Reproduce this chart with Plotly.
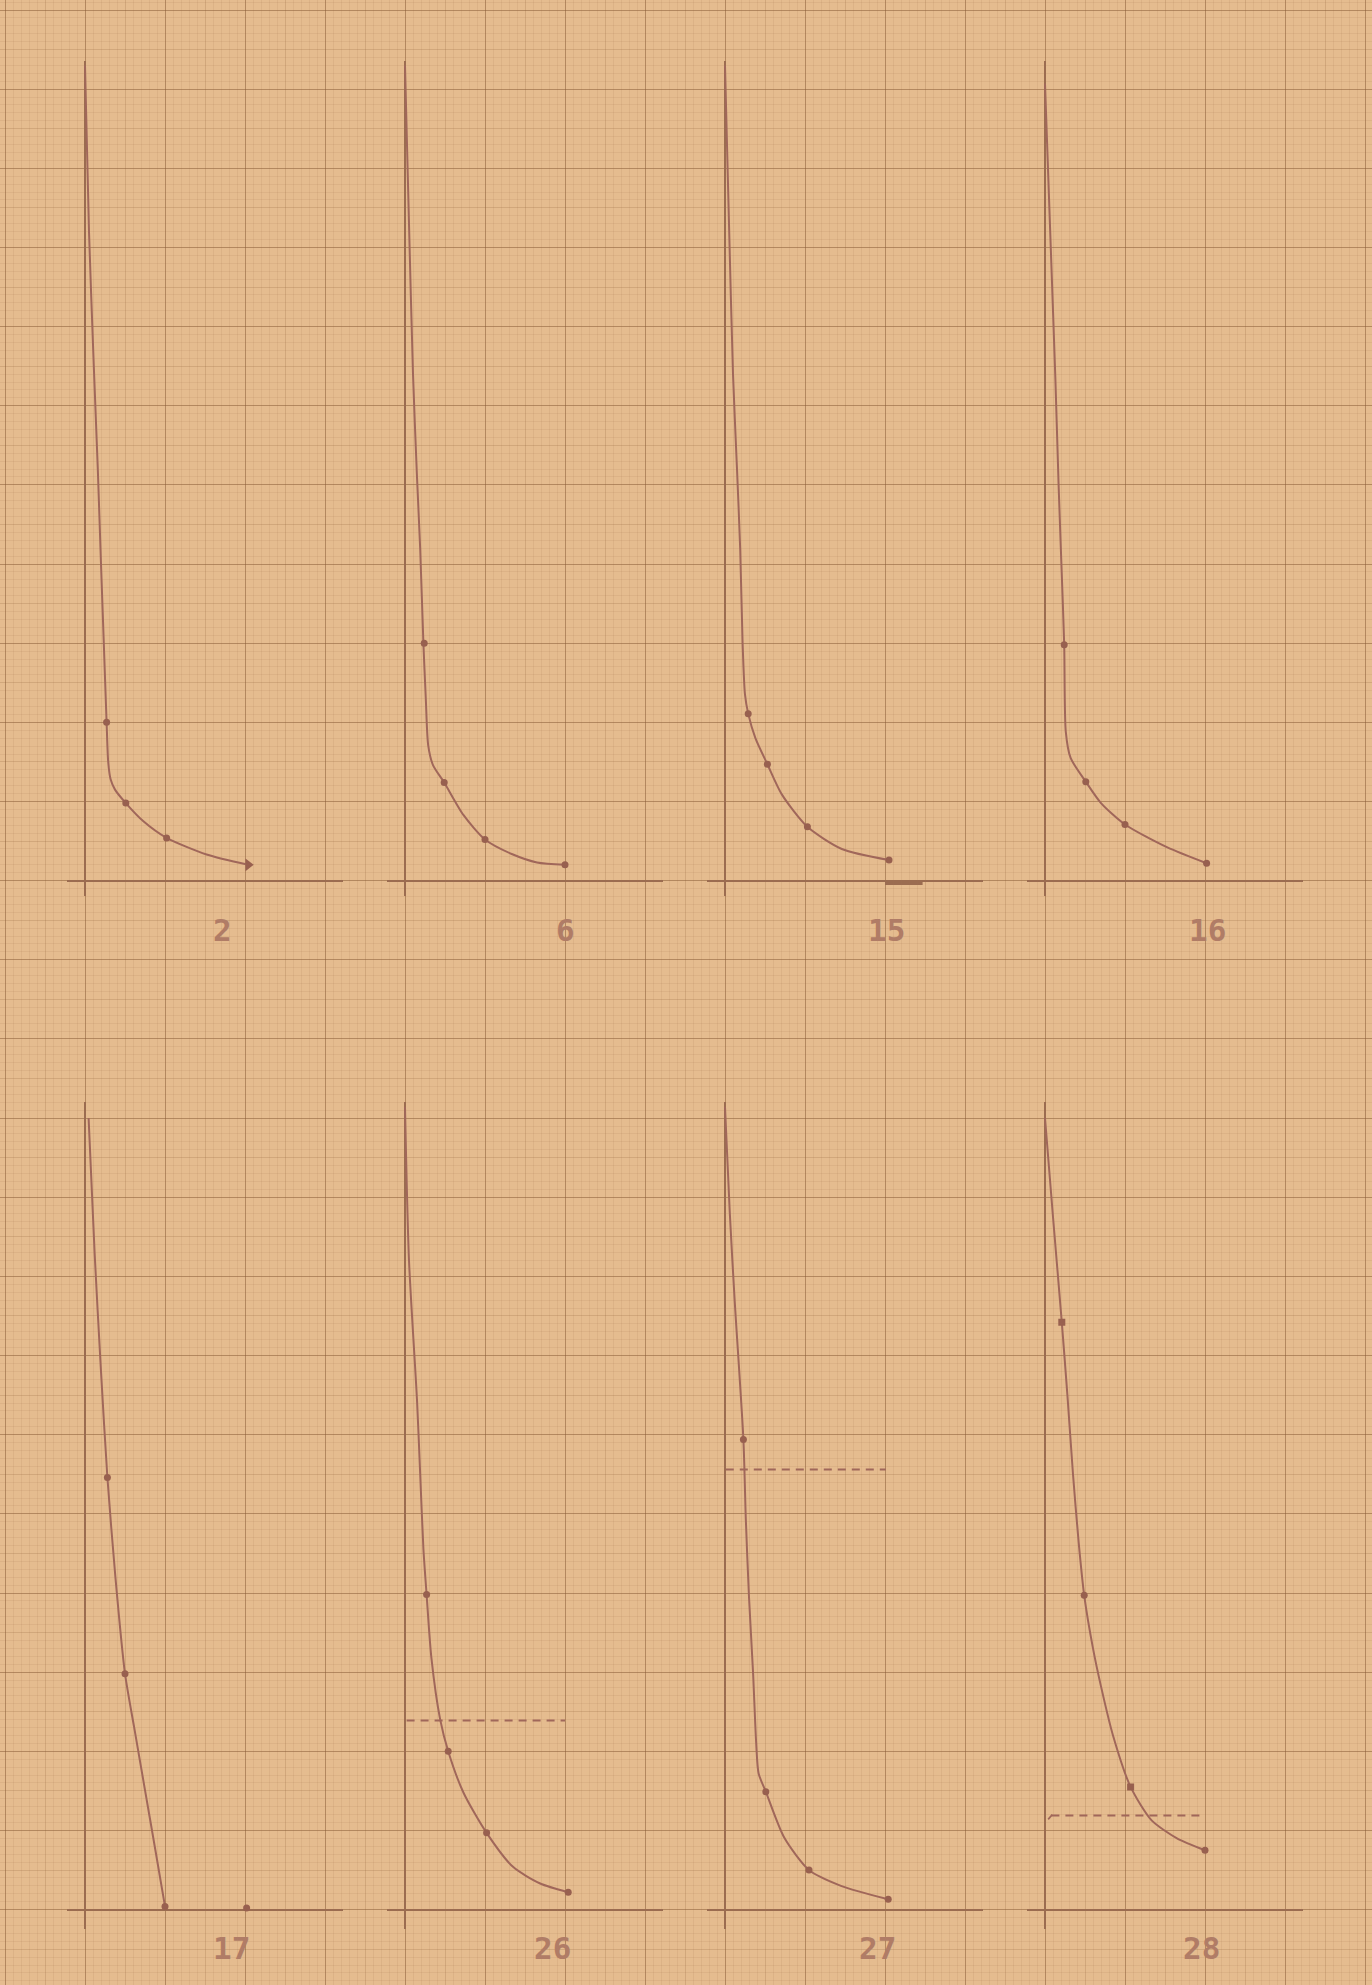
import plotly.graph_objects as go

W, H = 1372, 1985

# ---------------- data (grid-square units; vertical axis at x=0, baseline at y=0) ----------------
LABELS = ["2", "6", "15", "16", "17", "26", "27", "28"]
LABEL_X = [1.72, 2.01, 2.02, 2.03, 1.83, 1.85, 1.9, 1.95]
LABEL_Y = [-0.62, -0.62, -0.62, -0.62, -0.49, -0.49, -0.49, -0.49]

C2_X = [0.0, 0.05, 0.11, 0.16, 0.2, 0.235, 0.27, 0.29, 0.32, 0.375, 0.51, 0.73, 1.02, 1.52, 2.04]
C2_Y = [10.3, 8.2, 6.5, 5.2, 4.0, 3.0, 2.0, 1.5, 1.28, 1.15, 0.98, 0.75, 0.54, 0.33, 0.2]
P2_X = [0.27, 0.51, 1.02]
P2_Y = [2.0, 0.98, 0.54]
END2_X = [2.04]
END2_Y = [0.2]

C6_X = [0.0, 0.05, 0.1, 0.15, 0.19, 0.23, 0.26, 0.29, 0.35, 0.49, 0.73, 1.0, 1.35, 1.65, 2.0]
C6_Y = [10.3, 8.3, 6.4, 5.1, 4.19, 3.0, 2.3, 1.71, 1.46, 1.24, 0.83, 0.52, 0.33, 0.23, 0.2]
P6_X = [0.24, 0.49, 1.0, 2.0]
P6_Y = [3.0, 1.24, 0.52, 0.2]

C15_X = [0.0, 0.05, 0.1, 0.15, 0.19, 0.22, 0.25, 0.29, 0.38, 0.53, 0.71, 1.03, 1.46, 2.05]
C15_Y = [10.3, 8.3, 6.4, 5.2, 4.19, 3.0, 2.35, 2.11, 1.8, 1.47, 1.09, 0.68, 0.4, 0.26]
P15_X = [0.29, 0.53, 1.03, 2.05]
P15_Y = [2.11, 1.47, 0.68, 0.26]
MARK15_X = [2.0, 2.47]
MARK15_Y = [-0.03, -0.03]

C16_X = [0.0, 0.065, 0.13, 0.17, 0.205, 0.24, 0.26, 0.32, 0.51, 0.7, 1.0, 1.53, 2.02]
C16_Y = [10.07, 8.2, 6.33, 5.0, 4.0, 2.98, 1.88, 1.55, 1.25, 0.98, 0.71, 0.42, 0.22]
P16_X = [0.24, 0.51, 1.0, 2.02]
P16_Y = [2.98, 1.25, 0.71, 0.22]

C17_X = [0.045, 0.12, 0.2, 0.28, 0.38, 0.5, 0.62, 0.75, 0.88, 1.0]
C17_Y = [10.0, 8.3, 6.8, 5.46, 4.2, 2.98, 2.27, 1.51, 0.75, 0.04]
P17_X = [0.28, 0.5, 1.0, 2.02]
P17_Y = [5.46, 2.98, 0.04, 0.02]

C26_X = [0.0, 0.05, 0.15, 0.19, 0.23, 0.27, 0.33, 0.44, 0.54, 0.73, 1.02, 1.35, 1.69, 2.04]
C26_Y = [10.14, 8.2, 6.44, 5.5, 4.56, 3.98, 3.18, 2.4, 2.0, 1.48, 0.97, 0.54, 0.33, 0.22]
P26_X = [0.27, 0.54, 1.02, 2.04]
P26_Y = [3.98, 2.0, 0.97, 0.22]
D26_X = [0.02, 2.0]
D26_Y = [2.39, 2.39]

C27_X = [0.0, 0.06, 0.12, 0.23, 0.26, 0.3, 0.35, 0.39, 0.42, 0.51, 0.74, 1.05, 1.45, 2.04]
C27_Y = [10.14, 8.8, 7.71, 5.94, 4.94, 3.95, 3.01, 2.1, 1.72, 1.49, 0.91, 0.5, 0.3, 0.13]
P27_X = [0.23, 0.51, 1.05, 2.04]
P27_Y = [5.94, 1.49, 0.5, 0.13]
D27_X = [0.01, 2.01]
D27_Y = [5.56, 5.56]

C28_X = [0.0, 0.1, 0.21, 0.28, 0.35, 0.42, 0.49, 0.6, 0.7, 0.85, 1.07, 1.33, 1.65, 2.0]
C28_Y = [10.0, 8.75, 7.42, 6.5, 5.5, 4.65, 3.97, 3.3, 2.82, 2.2, 1.55, 1.13, 0.9, 0.75]
P28_X = [0.21, 0.49, 1.07, 2.0]
P28_Y = [7.42, 3.97, 1.55, 0.75]
P28_SYM = ["square", "circle", "square", "circle"]
D28_X = [0.08, 2.0]
D28_Y = [1.19, 1.19]
T28_X = [0.04, 0.09]
T28_Y = [1.14, 1.2]

# ---------------- layout constants ----------------
PX_X, PX_Y = 80.0, 79.15          # pixels per grid square
GX0, GY0 = 5.0, 10.0              # pixel of grid line 0
PANEL_COL = [1, 5, 9, 13, 1, 5, 9, 13]
PANEL_ROW = [11, 11, 11, 11, 24, 24, 24, 24]
XMIN, XMAX = -0.22, 3.22
YRANGE_TOP = (-0.2, 10.35)
YRANGE_BOT = (-0.25, 10.2)

BG = "#E5BC8F"
FINE = "rgba(160,110,70,0.12)"
MED = "rgba(150,105,65,0.25)"
MAJ = "rgba(135,90,55,0.40)"
AXC = "#9B6C50"
CURVE = "#A0675A"
MARK = "#98604F"
LABC = "#B07C66"

fig = go.Figure()

# background graph paper
xr = [(0 - GX0) / PX_X, (W - GX0) / PX_X]
yr = [(H - GY0) / PX_Y, (0 - GY0) / PX_Y]
fig.add_trace(go.Scatter(x=[], y=[], xaxis="x", yaxis="y", showlegend=False))
fig.add_trace(go.Scatter(x=[], y=[], xaxis="x2", yaxis="y2", showlegend=False))
common = dict(showticklabels=False, ticks="", zeroline=False, showline=False, fixedrange=True)
fig.update_layout(
    xaxis=dict(domain=[0, 1], range=xr, tick0=0, dtick=0.5, showgrid=True, gridcolor=MED, gridwidth=1,
               minor=dict(dtick=0.1, showgrid=True, gridcolor=FINE, gridwidth=1), anchor="y", **common),
    yaxis=dict(domain=[0, 1], range=yr, tick0=0, dtick=0.5, showgrid=True, gridcolor=MED, gridwidth=1,
               minor=dict(dtick=0.1, showgrid=True, gridcolor=FINE, gridwidth=1), anchor="x", **common),
    xaxis2=dict(overlaying="x", range=xr, tick0=0, dtick=1, showgrid=True, gridcolor=MAJ, gridwidth=1.4,
                anchor="y2", **common),
    yaxis2=dict(overlaying="y", range=yr, tick0=0, dtick=1, showgrid=True, gridcolor=MAJ, gridwidth=1.4,
                anchor="x2", **common),
)

CURVES = [(C2_X, C2_Y), (C6_X, C6_Y), (C15_X, C15_Y), (C16_X, C16_Y),
          (C17_X, C17_Y), (C26_X, C26_Y), (C27_X, C27_Y), (C28_X, C28_Y)]
POINTS = [(P2_X, P2_Y), (P6_X, P6_Y), (P15_X, P15_Y), (P16_X, P16_Y),
          (P17_X, P17_Y), (P26_X, P26_Y), (P27_X, P27_Y), (P28_X, P28_Y)]
DASHES = {5: (D26_X, D26_Y), 6: (D27_X, D27_Y), 7: (D28_X, D28_Y)}

for i in range(8):
    n = i + 3
    xa, ya = f"x{n}", f"y{n}"
    ymin, ymax = YRANGE_TOP if i < 4 else YRANGE_BOT
    px_axis = GX0 + PANEL_COL[i] * PX_X
    px_base = GY0 + PANEL_ROW[i] * PX_Y
    xdom = [(px_axis + XMIN * PX_X) / W, (px_axis + XMAX * PX_X) / W]
    ydom = [1 - (px_base - ymin * PX_Y) / H, 1 - (px_base - ymax * PX_Y) / H]
    fig.layout[f"xaxis{n}"] = dict(domain=xdom, range=[XMIN, XMAX], anchor=ya, showgrid=False,
                                   zeroline=True, zerolinecolor=AXC, zerolinewidth=2,
                                   showticklabels=False, ticks="", showline=False, fixedrange=True)
    fig.layout[f"yaxis{n}"] = dict(domain=ydom, range=[ymin, ymax], anchor=xa, showgrid=False,
                                   zeroline=True, zerolinecolor=AXC, zerolinewidth=2,
                                   showticklabels=False, ticks="", showline=False, fixedrange=True)

    cx, cy = CURVES[i]
    fig.add_trace(go.Scatter(x=cx, y=cy, xaxis=xa, yaxis=ya, mode="lines",
                             line=dict(color=CURVE, width=2, shape="spline", smoothing=0.7),
                             showlegend=False, hoverinfo="skip"))
    if i in DASHES:
        dx, dy = DASHES[i]
        fig.add_trace(go.Scatter(x=dx, y=dy, xaxis=xa, yaxis=ya, mode="lines",
                                 line=dict(color=CURVE, width=2, dash="8px,6px"),
                                 showlegend=False, hoverinfo="skip"))
    px_, py_ = POINTS[i]
    sym = P28_SYM if i == 7 else "circle"
    fig.add_trace(go.Scatter(x=px_, y=py_, xaxis=xa, yaxis=ya, mode="markers",
                             marker=dict(color=MARK, size=7, symbol=sym),
                             showlegend=False, hoverinfo="skip"))
    # label below the baseline (domain reference so it may sit outside the data range)
    fig.add_annotation(x=LABEL_X[i], xref=xa,
                       y=(LABEL_Y[i] - ymin) / (ymax - ymin), yref=f"{ya} domain",
                       text=LABELS[i], showarrow=False,
                       font=dict(family="DejaVu Sans Mono", size=31, color=LABC, weight="bold"),
                       xanchor="center", yanchor="middle")

# special marks
fig.add_trace(go.Scatter(x=END2_X, y=END2_Y, xaxis="x3", yaxis="y3", mode="markers",
                         marker=dict(color=MARK, size=11, symbol="triangle-right"),
                         showlegend=False, hoverinfo="skip"))
fig.add_trace(go.Scatter(x=MARK15_X, y=MARK15_Y, xaxis="x5", yaxis="y5", mode="lines",
                         line=dict(color=AXC, width=4), showlegend=False, hoverinfo="skip"))
fig.add_trace(go.Scatter(x=T28_X, y=T28_Y, xaxis="x10", yaxis="y10", mode="lines",
                         line=dict(color=CURVE, width=1.6), showlegend=False, hoverinfo="skip"))

fig.update_layout(width=W, height=H, margin=dict(l=0, r=0, t=0, b=0),
                  paper_bgcolor=BG, plot_bgcolor="rgba(0,0,0,0)", showlegend=False)

fig.write_html("out.html")
